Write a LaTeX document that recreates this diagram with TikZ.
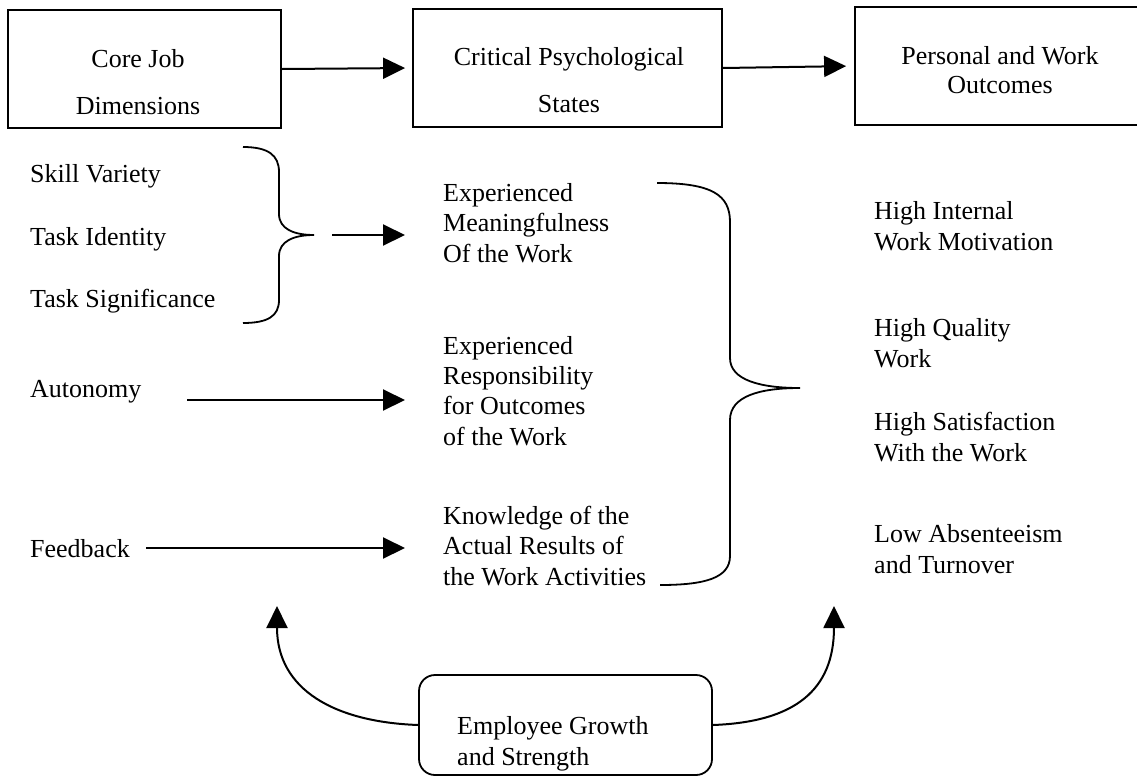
\documentclass[tikz,border=0pt]{standalone}
\usepackage{fontspec}
\setmainfont{Liberation Serif}
\usetikzlibrary{arrows.meta}
\begin{document}
\begin{tikzpicture}[x=1pt,y=-1pt,
  lbl/.style={anchor=base west, inner sep=0pt, align=left, font=\fontsize{26}{30.3}\selectfont},
  ctr/.style={anchor=base, inner sep=0pt, align=center, font=\fontsize{26}{47}\selectfont},
  ctrs/.style={anchor=base, inner sep=0pt, align=center, font=\fontsize{26}{29}\selectfont},
  boxshape/.style={draw, line width=1.8pt, inner sep=0pt},
  conn/.style={line width=2pt, -{Triangle[length=22pt,width=21pt]}},
  bracepath/.style={line width=1.8pt}]
\useasboundingbox (0,0) rectangle (1137,777);
\clip (0,0) rectangle (1137,777);
\fill[white] (0,0) rectangle (1137,777);

% header boxes
\node[boxshape, minimum width=273pt, minimum height=118pt] (b1) at (144.5,69) {};
\node[boxshape, minimum width=309pt, minimum height=118pt] (b2) at (567.5,68) {};
\node[boxshape, minimum width=290pt, minimum height=118pt] (b3) at (1000,66) {};
% multi-line nodes: base anchor sits on the last line
\node[ctr] (t1) at (138,114) {Core Job\\Dimensions};
\node[ctr] (t2) at (569,112) {Critical Psychological\\States};
\node[ctrs] (t3) at (1000,93) {Personal and Work\\Outcomes};
\draw[conn, shorten >=7pt] (b1.east) -- (b2.west);
\draw[conn, shorten >=8pt] (b2.east) -- (b3.west);

% left column
\node[lbl] (sv) at (30,182) {Skill Variety};
\node[lbl] (ti) at (30,245) {Task Identity};
\node[lbl] (ts) at (30,307) {Task Significance};
\node[lbl] (aut) at (30,397) {Autonomy};
\node[lbl] (fb) at (30,557) {Feedback};

% middle column
\node[lbl] (em) at (443,262) {Experienced\\Meaningfulness\\Of the Work};
\node[lbl] (er) at (443,445) {Experienced\\Responsibility\\for Outcomes\\of the Work};
\node[lbl] (kr) at (443,585) {Knowledge of the\\Actual Results of\\the Work Activities};

% right column
\node[lbl] (o1) at (874,250) {High Internal\\Work Motivation};
\node[lbl] (o2) at (874,367) {High Quality\\Work};
\node[lbl] (o3) at (874,461) {High Satisfaction\\With the Work};
\node[lbl] (o4) at (874,573) {Low Absenteeism\\and Turnover};

% small brace
\draw[bracepath] (243,147) .. controls (268,147) and (279,155) .. (279,172)
  -- (279,214) .. controls (279,229) and (294,235) .. (314,235)
  .. controls (294,235) and (279,241) .. (279,256)
  -- (279,300) .. controls (279,316) and (268,323) .. (243,323);
\coordinate (lbS) at (332,235);
\coordinate (lbE) at (405,235);
\draw[conn] (lbS) -- (lbE);

% big brace
\draw[bracepath] (657,183) .. controls (712,183) and (730,195) .. (730,222)
  -- (730,358) .. controls (730,380) and (760,388) .. (800,388)
  .. controls (760,388) and (730,396) .. (730,420)
  -- (730,556) .. controls (730,578) and (705,585) .. (660,585);

% single arrows
\coordinate (autS) at (187,400);
\coordinate (autE) at (405,400);
\draw[conn] (autS) -- (autE);
\coordinate (fbS) at (146,548);
\coordinate (fbE) at (405,548);
\draw[conn] (fbS) -- (fbE);

% bottom box
\node[draw, line width=1.8pt, rounded corners=16pt, minimum width=293pt, minimum height=100pt, inner sep=0pt] (eg) at (565.5,725) {};
\node[lbl] (egt) at (457,765) {Employee Growth\\and Strength};
\coordinate (lt) at (277,606);
\coordinate (rt) at (834,606);
\draw[conn] (eg.west) .. controls (335,722) and (277,690) .. (lt);
\draw[conn] (eg.east) .. controls (795,722) and (834,690) .. (rt);
\end{tikzpicture}
\end{document}
